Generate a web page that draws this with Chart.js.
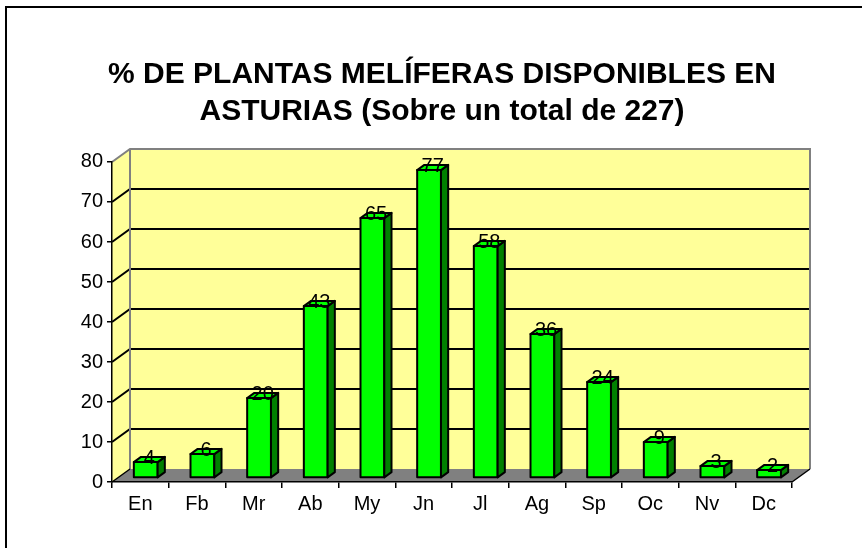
<!DOCTYPE html>
<html>
<head>
<meta charset="utf-8">
<script src="https://cdn.jsdelivr.net/npm/chart.js@4.4.1/dist/chart.umd.min.js"></script>
<style>
  body { margin: 0; background: #fff; }
  canvas { display: block; }
</style>
</head>
<body>
<canvas id="chart" width="862" height="548"></canvas>
<script>
// Meses y porcentaje de plantas meliferas en flor
const months = ['En', 'Fb', 'Mr', 'Ab', 'My', 'Jn', 'Jl', 'Ag', 'Sp', 'Oc', 'Nv', 'Dc'];
const percents = [4, 6, 20, 43, 65, 77, 58, 36, 24, 9, 3, 2];
const titleLines = ['% DE PLANTAS MELÍFERAS DISPONIBLES EN', 'ASTURIAS (Sobre un total de 227)'];
const yMin = 0, yMax = 80, yStep = 10;

// 3D look: depth of the walls, and where the bars sit inside that depth
const DEPTH = { x: 18, y: -13 };
const BAR_FRONT = 0.3;
const BAR_DEPTH = 0.4;
const FONT = 'Arial, "Liberation Sans", sans-serif';

Chart.defaults.font.family = FONT;
Chart.defaults.font.size = 20;
Chart.defaults.color = '#000';

function poly(ctx, pts) {
    ctx.beginPath();
    ctx.moveTo(pts[0][0], pts[0][1]);
    for (let i = 1; i < pts.length; i++) ctx.lineTo(pts[i][0], pts[i][1]);
    ctx.closePath();
}

const walls3d = {
    id: 'walls3d',
    beforeDraw(chart) {
        const { ctx, chartArea: a, scales: { y } } = chart;
        const dx = DEPTH.x, dy = DEPTH.y;
        ctx.save();
        ctx.fillStyle = '#fff';
        ctx.fillRect(0, 0, chart.width, chart.height);

        // outer frame
        ctx.strokeStyle = '#000';
        ctx.lineWidth = 2;
        ctx.strokeRect(6, 7, chart.width + 20, chart.height + 20);

        // side wall + back wall
        ctx.fillStyle = '#ffff99';
        poly(ctx, [[a.left, a.top], [a.left + dx, a.top + dy], [a.left + dx, a.bottom + dy], [a.left, a.bottom]]);
        ctx.fill();
        ctx.fillRect(a.left + dx, a.top + dy, a.right - a.left, a.bottom - a.top);

        // gridlines on both walls
        ctx.strokeStyle = '#000';
        ctx.lineWidth = 2;
        for (let v = yMin + yStep; v < yMax; v += yStep) {
            const py = y.getPixelForValue(v);
            ctx.beginPath();
            ctx.moveTo(a.left, py);
            ctx.lineTo(a.left + dx, py + dy);
            ctx.lineTo(a.right + dx, py + dy);
            ctx.stroke();
        }

        // grey wall edges
        ctx.strokeStyle = '#808080';
        ctx.beginPath();
        ctx.moveTo(a.left, a.top);
        ctx.lineTo(a.left + dx, a.top + dy);
        ctx.lineTo(a.right + dx, a.top + dy);
        ctx.lineTo(a.right + dx, a.bottom + dy);
        ctx.moveTo(a.left + dx, a.top + dy);
        ctx.lineTo(a.left + dx, a.bottom + dy);
        ctx.stroke();

        // floor
        ctx.fillStyle = '#808080';
        poly(ctx, [[a.left, a.bottom], [a.right, a.bottom], [a.right + dx, a.bottom + dy], [a.left + dx, a.bottom + dy]]);
        ctx.fill();
        ctx.strokeStyle = '#000';
        ctx.lineWidth = 1.5;
        ctx.beginPath();
        ctx.moveTo(a.left, a.bottom);
        ctx.lineTo(a.left + dx, a.bottom + dy);
        ctx.moveTo(a.right, a.bottom);
        ctx.lineTo(a.right + dx, a.bottom + dy);
        ctx.stroke();
        ctx.restore();
    },
    beforeDatasetsDraw(chart) {
        const { ctx } = chart;
        const sx = DEPTH.x * BAR_FRONT, sy = DEPTH.y * BAR_FRONT;
        const ddx = DEPTH.x * BAR_DEPTH, ddy = DEPTH.y * BAR_DEPTH;
        chart.data.datasets.forEach((ds, di) => {
            const meta = chart.getDatasetMeta(di);
            meta.data.forEach((bar, i) => {
                const { x, y, base, width } = bar.getProps(['x', 'y', 'base', 'width'], true);
                const L = x - width / 2 + sx, R = x + width / 2 + sx;
                const T = y + sy, B = base + sy;
                ctx.save();
                ctx.strokeStyle = ds.borderColor;
                ctx.lineWidth = 2;
                ctx.lineJoin = 'round';
                // front
                ctx.fillStyle = ds.backgroundColor;
                poly(ctx, [[L, T], [R, T], [R, B], [L, B]]);
                ctx.fill(); ctx.stroke();
                // right side
                ctx.fillStyle = ds.sideColor;
                poly(ctx, [[R, T], [R + ddx, T + ddy], [R + ddx, B + ddy], [R, B]]);
                ctx.fill(); ctx.stroke();
                // top
                ctx.fillStyle = ds.backgroundColor;
                poly(ctx, [[L, T], [L + ddx, T + ddy], [R + ddx, T + ddy], [R, T]]);
                ctx.fill(); ctx.stroke();
                // value label
                ctx.fillStyle = '#000';
                ctx.font = '20px ' + FONT;
                ctx.textAlign = 'center';
                ctx.textBaseline = 'alphabetic';
                ctx.fillText(String(ds.data[i]), (L + R) / 2 + ddx / 2, T + 2);
                ctx.restore();
            });
        });
        return false;
    }
};

new Chart(document.getElementById('chart'), {
    type: 'bar',
    data: {
        labels: months,
        datasets: [{
            label: '% plantas',
            data: percents,
            backgroundColor: '#00ff00',
            sideColor: '#008000',
            borderColor: '#000',
            categoryPercentage: 1,
            barPercentage: 0.42
        }]
    },
    options: {
        responsive: false,
        animation: false,
        layout: { padding: { left: 22, right: 0, top: 0, bottom: 0 } },
        plugins: {
            legend: { display: false },
            tooltip: { enabled: false },
            title: {
                display: true,
                text: titleLines,
                color: '#000',
                font: { size: 30, weight: 'bold', lineHeight: 1.233 },
                padding: { top: 56, bottom: 32 }
            }
        },
        scales: {
            x: {
                grid: { drawOnChartArea: false, drawTicks: true, tickLength: 6, color: '#000', lineWidth: 1.5, offset: true },
                border: { display: true, color: '#000', width: 1.5 },
                ticks: { padding: 4 },
                afterFit(scale) { scale.height = 66; }
            },
            y: {
                min: yMin,
                max: yMax,
                ticks: { stepSize: yStep, padding: 4 },
                grid: { drawOnChartArea: false, drawTicks: true, tickLength: 5, color: '#000', lineWidth: 1.5 },
                border: { display: true, color: '#000', width: 1.5 },
                afterFit(scale) { scale.width = 90; }
            },
            // empty margin on the right side of the plot
            margin: {
                position: 'right',
                grid: { display: false },
                border: { display: false },
                ticks: { display: false },
                afterFit(scale) { scale.width = 70; }
            }
        }
    },
    plugins: [walls3d]
});
</script>
</body>
</html>
